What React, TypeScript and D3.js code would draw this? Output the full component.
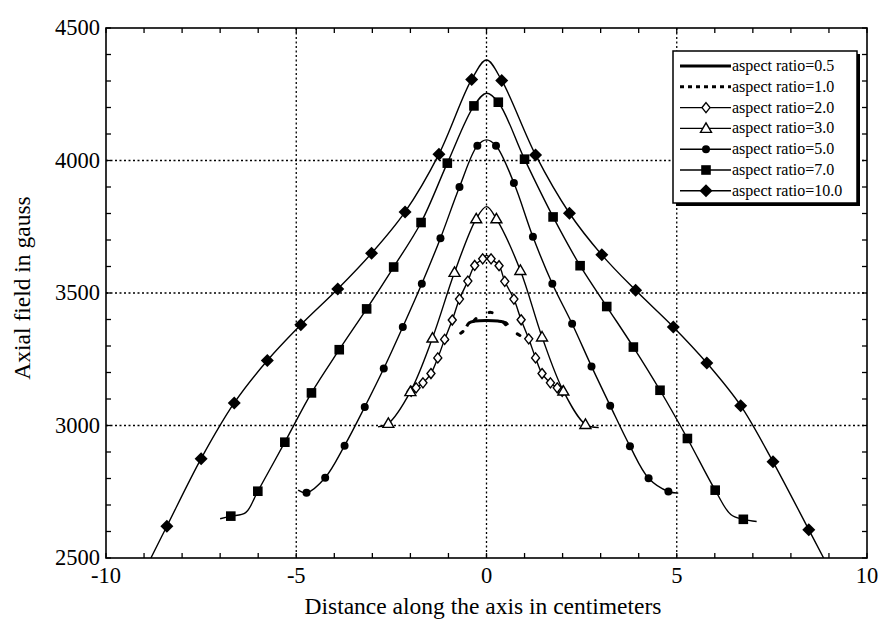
import React from 'react';
import * as d3 from 'd3';

const W = 883;
const H = 626;

// axis ticks
const xMajor = [-10, -5, 0, 5, 10];
const yMajor = [2500, 3000, 3500, 4000, 4500];
const xGrid = [-5, 0, 5];
const yGrid = [3000, 3500, 4000];
const xMinor = d3.range(-10, 10.01, 1);
const yMinor = d3.range(2500, 4500.1, 100);

// aspect ratio = 0.5 (thick solid line)
const ar05X = [-0.52, -0.45, -0.3, 0, 0.3, 0.5, 0.56];
const ar05Y = [3374, 3388, 3394, 3396, 3394, 3388, 3379];

// aspect ratio = 1.0 (dotted)
const ar1X = [-1.1, -0.68, -0.15, 0, 0.14, 0.68, 1.15];
const ar1Y = [3318, 3348, 3418, 3424, 3426, 3358, 3318];

// aspect ratio = 2.0 (open diamonds)
const ar2X = [-1.98, -1.85, -1.67, -1.46, -1.28, -1.1, -0.9, -0.71, -0.49, -0.31, -0.1, 0, 0.12, 0.33, 0.48, 0.72, 0.91, 1.11, 1.29, 1.46, 1.68, 1.86, 1.99];
const ar2Y = [3129, 3142, 3161, 3196, 3255, 3325, 3398, 3477, 3545, 3604, 3629, 3642, 3629, 3603, 3544, 3477, 3399, 3327, 3255, 3196, 3161, 3142, 3129];
const ar2M = [1, 1, 1, 1, 1, 1, 1, 1, 1, 1, 1, 0, 1, 1, 1, 1, 1, 1, 1, 1, 1, 1, 1];

// aspect ratio = 3.0 (open triangles)
const ar3X = [-2.85, -2.58, -2.0, -1.42, -0.84, -0.27, 0, 0.26, 0.89, 1.46, 2.02, 2.6, 2.95];
const ar3Y = [2995, 3008, 3128, 3330, 3578, 3780, 3826, 3780, 3585, 3334, 3130, 3004, 2992];
const ar3M = [0, 1, 1, 1, 1, 1, 0, 1, 1, 1, 1, 1, 0];

// aspect ratio = 5.0 (filled circles)
const ar5X = [-4.95, -4.73, -4.24, -3.73, -3.2, -2.7, -2.2, -1.7, -1.21, -0.71, -0.24, 0, 0.25, 0.72, 1.22, 1.73, 2.25, 2.76, 3.25, 3.77, 4.26, 4.78, 5.04];
const ar5Y = [2756, 2746, 2803, 2924, 3070, 3215, 3372, 3535, 3707, 3900, 4056, 4078, 4056, 3915, 3712, 3535, 3384, 3223, 3075, 2922, 2801, 2751, 2745];
const ar5M = [0, 1, 1, 1, 1, 1, 1, 1, 1, 1, 1, 0, 1, 1, 1, 1, 1, 1, 1, 1, 1, 1, 0];

// aspect ratio = 7.0 (filled squares)
const ar7X = [-7.0, -6.72, -6.33, -6.01, -5.3, -4.6, -3.87, -3.15, -2.44, -1.72, -1.03, -0.33, 0, 0.31, 1.0, 1.75, 2.46, 3.16, 3.86, 4.56, 5.28, 6.01, 6.42, 6.75, 7.1];
const ar7Y = [2648, 2658, 2671, 2752, 2937, 3123, 3286, 3440, 3598, 3766, 3990, 4206, 4254, 4220, 4005, 3787, 3603, 3449, 3296, 3133, 2951, 2756, 2664, 2646, 2638];
const ar7M = [0, 1, 0, 1, 1, 1, 1, 1, 1, 1, 1, 1, 0, 1, 1, 1, 1, 1, 1, 1, 1, 1, 0, 1, 0];

// aspect ratio = 10.0 (filled diamonds)
const ar10X = [-8.82, -8.4, -7.5, -6.63, -5.76, -4.88, -3.91, -3.02, -2.14, -1.25, -0.39, 0, 0.4, 1.29, 2.18, 3.03, 3.92, 4.91, 5.79, 6.68, 7.53, 8.47, 8.86];
const ar10Y = [2500, 2620, 2875, 3085, 3245, 3380, 3515, 3650, 3806, 4024, 4306, 4379, 4302, 4021, 3801, 3644, 3510, 3372, 3236, 3075, 2863, 2607, 2500];
const ar10M = [0, 1, 1, 1, 1, 1, 1, 1, 1, 1, 1, 0, 1, 1, 1, 1, 1, 1, 1, 1, 1, 1, 0];

const legendLabels = [
  'aspect ratio=0.5',
  'aspect ratio=1.0',
  'aspect ratio=2.0',
  'aspect ratio=3.0',
  'aspect ratio=5.0',
  'aspect ratio=7.0',
  'aspect ratio=10.0',
];

type MarkerKind = 'none' | 'odiamond' | 'otriangle' | 'circle' | 'square' | 'diamond';

interface Series {
  xs: number[];
  ys: number[];
  ms: number[] | null;
  marker: MarkerKind;
  width: number;
  dash?: string;
}

const series: Series[] = [
  { xs: ar05X, ys: ar05Y, ms: null, marker: 'none', width: 3 },
  { xs: ar1X, ys: ar1Y, ms: null, marker: 'none', width: 3, dash: '3,15' },
  { xs: ar2X, ys: ar2Y, ms: ar2M, marker: 'odiamond', width: 1.4 },
  { xs: ar3X, ys: ar3Y, ms: ar3M, marker: 'otriangle', width: 1.4 },
  { xs: ar5X, ys: ar5Y, ms: ar5M, marker: 'circle', width: 1.4 },
  { xs: ar7X, ys: ar7Y, ms: ar7M, marker: 'square', width: 1.4 },
  { xs: ar10X, ys: ar10Y, ms: ar10M, marker: 'diamond', width: 1.4 },
];

const FONT = '"Liberation Serif", "Times New Roman", serif';

function Marker({ kind, cx, cy }: { kind: MarkerKind; cx: number; cy: number }) {
  switch (kind) {
    case 'diamond':
      return <path d={`M${cx},${cy - 6.5}L${cx + 6.5},${cy}L${cx},${cy + 6.5}L${cx - 6.5},${cy}Z`} fill="#000" />;
    case 'square':
      return <rect x={cx - 4.8} y={cy - 4.8} width={9.6} height={9.6} fill="#000" />;
    case 'circle':
      return <circle cx={cx} cy={cy} r={4} fill="#000" />;
    case 'otriangle':
      return <path d={`M${cx},${cy - 5.5}L${cx + 5.5},${cy + 4}L${cx - 5.5},${cy + 4}Z`} fill="#fff" stroke="#000" strokeWidth={1.4} />;
    case 'odiamond':
      return <path d={`M${cx},${cy - 5}L${cx + 4},${cy}L${cx},${cy + 5}L${cx - 4},${cy}Z`} fill="#fff" stroke="#000" strokeWidth={1.4} />;
    default:
      return null;
  }
}

export default function App() {
  const left = 106, right = 867, top = 28, bottom = 558;
  const x = d3.scaleLinear().domain([-10, 10]).range([left, right]);
  const y = d3.scaleLinear().domain([2500, 4500]).range([bottom, top]);

  const line = d3
    .line<[number, number]>()
    .x((d) => x(d[0]))
    .y((d) => y(d[1]))
    .curve(d3.curveCatmullRom.alpha(0.5));

  const legX = 673, legY = 51, legW = 184, legH = 152;
  const rowY = (i: number) => legY + 15 + i * 20.8;

  return (
    <svg
      width={W}
      height={H}
      viewBox={`0 0 ${W} ${H}`}
      style={{ position: 'absolute', left: 0, top: 0, background: '#fff' }}
      fontFamily={FONT}
    >
      <defs>
        <clipPath id="plotClip">
          <rect x={left} y={top} width={right - left} height={bottom - top} />
        </clipPath>
      </defs>
      <rect x={0} y={0} width={W} height={H} fill="#fff" />

      {/* grid */}
      {xGrid.map((v) => (
        <line key={'gx' + v} x1={x(v)} x2={x(v)} y1={top} y2={bottom} stroke="#000" strokeWidth={1.3} strokeDasharray="2,2.5" />
      ))}
      {yGrid.map((v) => (
        <line key={'gy' + v} x1={left} x2={right} y1={y(v)} y2={y(v)} stroke="#000" strokeWidth={1.3} strokeDasharray="2,2.5" />
      ))}

      {/* series */}
      <g clipPath="url(#plotClip)">
        {series.map((s, i) => {
          const pts = s.xs.map((v, j) => [v, s.ys[j]] as [number, number]);
          return (
            <path
              key={'s' + i}
              d={line(pts) || ''}
              fill="none"
              stroke="#000"
              strokeWidth={s.width}
              strokeDasharray={s.dash}
              strokeLinecap={s.dash ? 'round' : 'butt'}
            />
          );
        })}
        {series.map((s, i) =>
          s.ms
            ? s.xs.map((v, j) =>
                s.ms![j] ? <Marker key={`m${i}-${j}`} kind={s.marker} cx={x(v)} cy={y(s.ys[j])} /> : null
              )
            : null
        )}
      </g>

      {/* frame */}
      <rect x={left} y={top} width={right - left} height={bottom - top} fill="none" stroke="#000" strokeWidth={1.6} />

      {/* minor ticks */}
      {xMinor.map((v) => (
        <g key={'tx' + v}>
          <line x1={x(v)} x2={x(v)} y1={bottom} y2={bottom - 5} stroke="#000" strokeWidth={1.3} />
          <line x1={x(v)} x2={x(v)} y1={top} y2={top + 5} stroke="#000" strokeWidth={1.3} />
        </g>
      ))}
      {yMinor.map((v) => (
        <g key={'ty' + v}>
          <line x1={left} x2={left + 5} y1={y(v)} y2={y(v)} stroke="#000" strokeWidth={1.3} />
          <line x1={right} x2={right - 5} y1={y(v)} y2={y(v)} stroke="#000" strokeWidth={1.3} />
        </g>
      ))}

      {/* tick labels */}
      {xMajor.map((v) => (
        <text key={'lx' + v} x={x(v)} y={bottom + 25} textAnchor="middle" fontSize={22.5} fill="#000">
          {v}
        </text>
      ))}
      {yMajor.map((v) => (
        <text key={'ly' + v} x={left - 6} y={y(v) + 7} textAnchor="end" fontSize={22.5} fill="#000">
          {v}
        </text>
      ))}

      {/* axis titles */}
      <text x={483} y={614} textAnchor="middle" fontSize={23.5} fill="#000">
        Distance along the axis in centimeters
      </text>
      <text
        transform={`translate(30, ${288}) rotate(-90)`}
        textAnchor="middle"
        fontSize={23.5}
        fill="#000"
      >
        Axial field in gauss
      </text>

      {/* legend */}
      <rect x={legX + 3} y={legY + 3} width={legW} height={legH} fill="#000" />
      <rect x={legX} y={legY} width={legW} height={legH} fill="#fff" stroke="#000" strokeWidth={1.5} />
      {series.map((s, i) => {
        const ry = rowY(i);
        return (
          <g key={'leg' + i}>
            <line
              x1={legX + 7}
              x2={legX + 58}
              y1={ry}
              y2={ry}
              stroke="#000"
              strokeWidth={i < 2 ? 3 : 1.4}
              strokeDasharray={s.dash ? '4,4' : undefined}
            />
            <Marker kind={s.marker} cx={legX + 33} cy={ry} />
            <text x={legX + 59} y={ry + 5} fontSize={16} fill="#000">
              {legendLabels[i]}
            </text>
          </g>
        );
      })}
    </svg>
  );
}
